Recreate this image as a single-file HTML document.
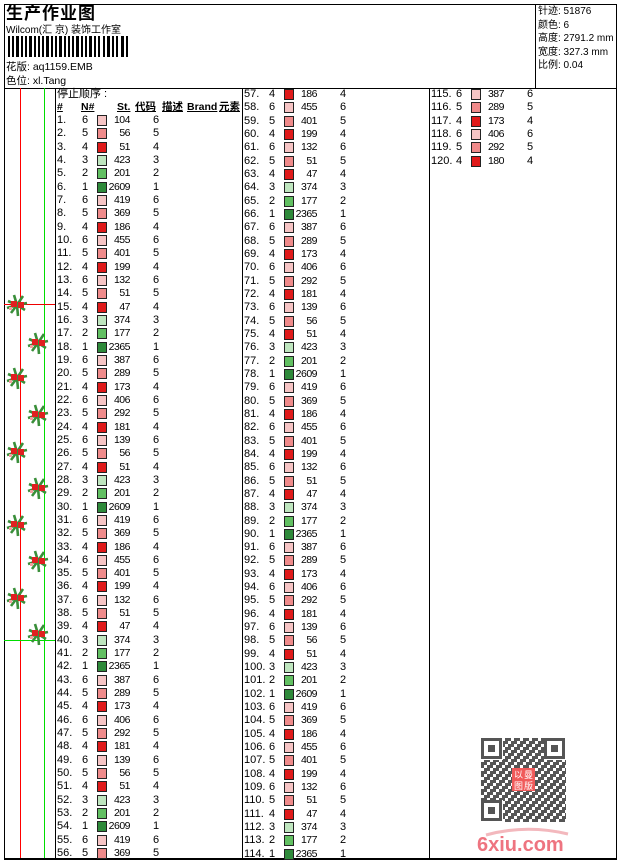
<!DOCTYPE html>
<html><head><meta charset="utf-8">
<style>
*{margin:0;padding:0;box-sizing:border-box}
body{width:620px;height:860px;background:#fff;position:relative;overflow:hidden;font-family:"Liberation Sans","Noto Sans CJK SC",sans-serif;font-size:11px;color:#000;line-height:13px}
.a{position:absolute;white-space:nowrap;line-height:13px}
.col{position:absolute;width:186px}
.r{position:relative;height:13.34px;line-height:13px}
.r i,.r b,.r u,.r em{position:absolute;font-style:normal;font-weight:normal;text-decoration:none;top:0}
.r i{left:1px}.r b{left:26px}.r u{right:112px;text-align:right;letter-spacing:-0.5px;font-size:10.5px}.r em{left:97px}
.r s{position:absolute;left:41px;top:1px;width:10px;height:11px;border:1px solid #222}
.c6{background:#f6c4c4}.c5{background:#ef8a8a}.c4{background:#e01a1a}.c3{background:#bfe6bf}.c2{background:#62c062}.c1{background:#2e8a3a}
.h{font-weight:bold;text-decoration:underline;font-size:10.5px}
</style></head><body>
<div class="a" style="left:4px;top:4px;width:613px;height:856px;border:1px solid #000;border-bottom-width:2px"></div>
<div class="a" style="left:4px;top:88px;width:613px;height:1px;background:#000"></div>
<div class="a" style="left:535px;top:4px;width:1px;height:84px;background:#000"></div>
<div class="a" style="left:55px;top:88px;width:1px;height:770px;background:#000"></div>
<div class="a" style="left:242px;top:88px;width:1px;height:770px;background:#000"></div>
<div class="a" style="left:429px;top:88px;width:1px;height:770px;background:#000"></div>
<div class="a" style="left:20px;top:88px;width:1px;height:770px;background:#f00"></div>
<div class="a" style="left:44px;top:88px;width:1px;height:770px;background:#0d0"></div>
<div class="a" style="left:4px;top:304px;width:51px;height:1px;background:#e00"></div>
<div class="a" style="left:4px;top:640px;width:51px;height:1px;background:#0d0"></div>
<svg class="a" style="left:0;top:0" width="60" height="860">
<defs><g id="sp">
<path d="M0 0 L-9 -4 M0 0 L-10 3 M0 0 L-3 -10 M0 0 L6 -9 M0 0 L10 -2 M0 0 L8 5 M0 0 L1 11 M0 0 L-6 8" stroke="#3a8f3a" stroke-width="2.6"/>
<rect x="-6" y="-4" width="6" height="6" fill="#e02020"/><rect x="1" y="-3" width="6" height="6" fill="#e02020"/><rect x="-8" y="2" width="3" height="3" fill="#f2a0a0"/>
</g></defs>
<use href="#sp" x="17" y="305"/><use href="#sp" x="17" y="378"/><use href="#sp" x="17" y="452"/><use href="#sp" x="17" y="525"/><use href="#sp" x="17" y="598"/>
<use href="#sp" x="38" y="343"/><use href="#sp" x="38" y="415"/><use href="#sp" x="38" y="488"/><use href="#sp" x="38" y="561"/><use href="#sp" x="38" y="634"/>
</svg>
<div class="a" style="left:6px;top:4px;font-size:17px;line-height:20px;font-weight:bold;letter-spacing:1px">生产作业图</div>
<div class="a" style="left:6px;top:24px;font-size:10px">Wilcom(汇 京) 装饰工作室</div>
<svg class="a" style="left:8px;top:36px" width="124" height="21">
<g fill="#000">
<rect x="0" y="0" width="2" height="21"/><rect x="4" y="0" width="2" height="21"/><rect x="8" y="0" width="3" height="21"/><rect x="13" y="0" width="2" height="21"/><rect x="17" y="0" width="2" height="21"/><rect x="21" y="0" width="3" height="21"/><rect x="26" y="0" width="2" height="21"/><rect x="30" y="0" width="2" height="21"/><rect x="34" y="0" width="2" height="21"/><rect x="38" y="0" width="3" height="21"/><rect x="43" y="0" width="2" height="21"/><rect x="47" y="0" width="2" height="21"/><rect x="51" y="0" width="3" height="21"/><rect x="56" y="0" width="2" height="21"/><rect x="60" y="0" width="2" height="21"/><rect x="64" y="0" width="2" height="21"/><rect x="68" y="0" width="3" height="21"/><rect x="73" y="0" width="2" height="21"/><rect x="77" y="0" width="2" height="21"/><rect x="81" y="0" width="3" height="21"/><rect x="86" y="0" width="2" height="21"/><rect x="90" y="0" width="2" height="21"/><rect x="95" y="0" width="2" height="21"/><rect x="99" y="0" width="3" height="21"/><rect x="104" y="0" width="2" height="21"/><rect x="108" y="0" width="2" height="21"/><rect x="113" y="0" width="3" height="21"/><rect x="118" y="0" width="2" height="21"/>
</g></svg>
<div class="a" style="left:6px;top:61px;font-size:10.5px">花版: aq1159.EMB</div>
<div class="a" style="left:6px;top:75px;font-size:10.5px">色位: xl.Tang</div>
<div class="a" style="left:538px;top:5px;font-size:10px;line-height:13.5px;white-space:normal;width:80px">针迹: 51876<br>颜色: 6<br>高度: 2791.2 mm<br>宽度: 327.3 mm<br>比例: 0.04</div>
<div class="a" style="left:57px;top:88px">停止顺序 :</div>
<div class="a h" style="left:57px;top:101px">#</div>
<div class="a h" style="left:81px;top:101px">N#</div>
<div class="a h" style="left:117px;top:101px">St.</div>
<div class="a h" style="left:135px;top:101px">代码</div>
<div class="a h" style="left:162px;top:101px">描述</div>
<div class="a h" style="left:187px;top:101px">Brand</div>
<div class="a h" style="left:219px;top:101px">元素</div>
<div class="col" style="left:56px;top:114px">
<div class="r"><i>1.</i><b>6</b><s class="c6"></s><u>104</u><em>6</em></div>
<div class="r"><i>2.</i><b>5</b><s class="c5"></s><u>56</u><em>5</em></div>
<div class="r"><i>3.</i><b>4</b><s class="c4"></s><u>51</u><em>4</em></div>
<div class="r"><i>4.</i><b>3</b><s class="c3"></s><u>423</u><em>3</em></div>
<div class="r"><i>5.</i><b>2</b><s class="c2"></s><u>201</u><em>2</em></div>
<div class="r"><i>6.</i><b>1</b><s class="c1"></s><u>2609</u><em>1</em></div>
<div class="r"><i>7.</i><b>6</b><s class="c6"></s><u>419</u><em>6</em></div>
<div class="r"><i>8.</i><b>5</b><s class="c5"></s><u>369</u><em>5</em></div>
<div class="r"><i>9.</i><b>4</b><s class="c4"></s><u>186</u><em>4</em></div>
<div class="r"><i>10.</i><b>6</b><s class="c6"></s><u>455</u><em>6</em></div>
<div class="r"><i>11.</i><b>5</b><s class="c5"></s><u>401</u><em>5</em></div>
<div class="r"><i>12.</i><b>4</b><s class="c4"></s><u>199</u><em>4</em></div>
<div class="r"><i>13.</i><b>6</b><s class="c6"></s><u>132</u><em>6</em></div>
<div class="r"><i>14.</i><b>5</b><s class="c5"></s><u>51</u><em>5</em></div>
<div class="r"><i>15.</i><b>4</b><s class="c4"></s><u>47</u><em>4</em></div>
<div class="r"><i>16.</i><b>3</b><s class="c3"></s><u>374</u><em>3</em></div>
<div class="r"><i>17.</i><b>2</b><s class="c2"></s><u>177</u><em>2</em></div>
<div class="r"><i>18.</i><b>1</b><s class="c1"></s><u>2365</u><em>1</em></div>
<div class="r"><i>19.</i><b>6</b><s class="c6"></s><u>387</u><em>6</em></div>
<div class="r"><i>20.</i><b>5</b><s class="c5"></s><u>289</u><em>5</em></div>
<div class="r"><i>21.</i><b>4</b><s class="c4"></s><u>173</u><em>4</em></div>
<div class="r"><i>22.</i><b>6</b><s class="c6"></s><u>406</u><em>6</em></div>
<div class="r"><i>23.</i><b>5</b><s class="c5"></s><u>292</u><em>5</em></div>
<div class="r"><i>24.</i><b>4</b><s class="c4"></s><u>181</u><em>4</em></div>
<div class="r"><i>25.</i><b>6</b><s class="c6"></s><u>139</u><em>6</em></div>
<div class="r"><i>26.</i><b>5</b><s class="c5"></s><u>56</u><em>5</em></div>
<div class="r"><i>27.</i><b>4</b><s class="c4"></s><u>51</u><em>4</em></div>
<div class="r"><i>28.</i><b>3</b><s class="c3"></s><u>423</u><em>3</em></div>
<div class="r"><i>29.</i><b>2</b><s class="c2"></s><u>201</u><em>2</em></div>
<div class="r"><i>30.</i><b>1</b><s class="c1"></s><u>2609</u><em>1</em></div>
<div class="r"><i>31.</i><b>6</b><s class="c6"></s><u>419</u><em>6</em></div>
<div class="r"><i>32.</i><b>5</b><s class="c5"></s><u>369</u><em>5</em></div>
<div class="r"><i>33.</i><b>4</b><s class="c4"></s><u>186</u><em>4</em></div>
<div class="r"><i>34.</i><b>6</b><s class="c6"></s><u>455</u><em>6</em></div>
<div class="r"><i>35.</i><b>5</b><s class="c5"></s><u>401</u><em>5</em></div>
<div class="r"><i>36.</i><b>4</b><s class="c4"></s><u>199</u><em>4</em></div>
<div class="r"><i>37.</i><b>6</b><s class="c6"></s><u>132</u><em>6</em></div>
<div class="r"><i>38.</i><b>5</b><s class="c5"></s><u>51</u><em>5</em></div>
<div class="r"><i>39.</i><b>4</b><s class="c4"></s><u>47</u><em>4</em></div>
<div class="r"><i>40.</i><b>3</b><s class="c3"></s><u>374</u><em>3</em></div>
<div class="r"><i>41.</i><b>2</b><s class="c2"></s><u>177</u><em>2</em></div>
<div class="r"><i>42.</i><b>1</b><s class="c1"></s><u>2365</u><em>1</em></div>
<div class="r"><i>43.</i><b>6</b><s class="c6"></s><u>387</u><em>6</em></div>
<div class="r"><i>44.</i><b>5</b><s class="c5"></s><u>289</u><em>5</em></div>
<div class="r"><i>45.</i><b>4</b><s class="c4"></s><u>173</u><em>4</em></div>
<div class="r"><i>46.</i><b>6</b><s class="c6"></s><u>406</u><em>6</em></div>
<div class="r"><i>47.</i><b>5</b><s class="c5"></s><u>292</u><em>5</em></div>
<div class="r"><i>48.</i><b>4</b><s class="c4"></s><u>181</u><em>4</em></div>
<div class="r"><i>49.</i><b>6</b><s class="c6"></s><u>139</u><em>6</em></div>
<div class="r"><i>50.</i><b>5</b><s class="c5"></s><u>56</u><em>5</em></div>
<div class="r"><i>51.</i><b>4</b><s class="c4"></s><u>51</u><em>4</em></div>
<div class="r"><i>52.</i><b>3</b><s class="c3"></s><u>423</u><em>3</em></div>
<div class="r"><i>53.</i><b>2</b><s class="c2"></s><u>201</u><em>2</em></div>
<div class="r"><i>54.</i><b>1</b><s class="c1"></s><u>2609</u><em>1</em></div>
<div class="r"><i>55.</i><b>6</b><s class="c6"></s><u>419</u><em>6</em></div>
<div class="r"><i>56.</i><b>5</b><s class="c5"></s><u>369</u><em>5</em></div>
</div>
<div class="col" style="left:243px;top:88px">
<div class="r"><i>57.</i><b>4</b><s class="c4"></s><u>186</u><em>4</em></div>
<div class="r"><i>58.</i><b>6</b><s class="c6"></s><u>455</u><em>6</em></div>
<div class="r"><i>59.</i><b>5</b><s class="c5"></s><u>401</u><em>5</em></div>
<div class="r"><i>60.</i><b>4</b><s class="c4"></s><u>199</u><em>4</em></div>
<div class="r"><i>61.</i><b>6</b><s class="c6"></s><u>132</u><em>6</em></div>
<div class="r"><i>62.</i><b>5</b><s class="c5"></s><u>51</u><em>5</em></div>
<div class="r"><i>63.</i><b>4</b><s class="c4"></s><u>47</u><em>4</em></div>
<div class="r"><i>64.</i><b>3</b><s class="c3"></s><u>374</u><em>3</em></div>
<div class="r"><i>65.</i><b>2</b><s class="c2"></s><u>177</u><em>2</em></div>
<div class="r"><i>66.</i><b>1</b><s class="c1"></s><u>2365</u><em>1</em></div>
<div class="r"><i>67.</i><b>6</b><s class="c6"></s><u>387</u><em>6</em></div>
<div class="r"><i>68.</i><b>5</b><s class="c5"></s><u>289</u><em>5</em></div>
<div class="r"><i>69.</i><b>4</b><s class="c4"></s><u>173</u><em>4</em></div>
<div class="r"><i>70.</i><b>6</b><s class="c6"></s><u>406</u><em>6</em></div>
<div class="r"><i>71.</i><b>5</b><s class="c5"></s><u>292</u><em>5</em></div>
<div class="r"><i>72.</i><b>4</b><s class="c4"></s><u>181</u><em>4</em></div>
<div class="r"><i>73.</i><b>6</b><s class="c6"></s><u>139</u><em>6</em></div>
<div class="r"><i>74.</i><b>5</b><s class="c5"></s><u>56</u><em>5</em></div>
<div class="r"><i>75.</i><b>4</b><s class="c4"></s><u>51</u><em>4</em></div>
<div class="r"><i>76.</i><b>3</b><s class="c3"></s><u>423</u><em>3</em></div>
<div class="r"><i>77.</i><b>2</b><s class="c2"></s><u>201</u><em>2</em></div>
<div class="r"><i>78.</i><b>1</b><s class="c1"></s><u>2609</u><em>1</em></div>
<div class="r"><i>79.</i><b>6</b><s class="c6"></s><u>419</u><em>6</em></div>
<div class="r"><i>80.</i><b>5</b><s class="c5"></s><u>369</u><em>5</em></div>
<div class="r"><i>81.</i><b>4</b><s class="c4"></s><u>186</u><em>4</em></div>
<div class="r"><i>82.</i><b>6</b><s class="c6"></s><u>455</u><em>6</em></div>
<div class="r"><i>83.</i><b>5</b><s class="c5"></s><u>401</u><em>5</em></div>
<div class="r"><i>84.</i><b>4</b><s class="c4"></s><u>199</u><em>4</em></div>
<div class="r"><i>85.</i><b>6</b><s class="c6"></s><u>132</u><em>6</em></div>
<div class="r"><i>86.</i><b>5</b><s class="c5"></s><u>51</u><em>5</em></div>
<div class="r"><i>87.</i><b>4</b><s class="c4"></s><u>47</u><em>4</em></div>
<div class="r"><i>88.</i><b>3</b><s class="c3"></s><u>374</u><em>3</em></div>
<div class="r"><i>89.</i><b>2</b><s class="c2"></s><u>177</u><em>2</em></div>
<div class="r"><i>90.</i><b>1</b><s class="c1"></s><u>2365</u><em>1</em></div>
<div class="r"><i>91.</i><b>6</b><s class="c6"></s><u>387</u><em>6</em></div>
<div class="r"><i>92.</i><b>5</b><s class="c5"></s><u>289</u><em>5</em></div>
<div class="r"><i>93.</i><b>4</b><s class="c4"></s><u>173</u><em>4</em></div>
<div class="r"><i>94.</i><b>6</b><s class="c6"></s><u>406</u><em>6</em></div>
<div class="r"><i>95.</i><b>5</b><s class="c5"></s><u>292</u><em>5</em></div>
<div class="r"><i>96.</i><b>4</b><s class="c4"></s><u>181</u><em>4</em></div>
<div class="r"><i>97.</i><b>6</b><s class="c6"></s><u>139</u><em>6</em></div>
<div class="r"><i>98.</i><b>5</b><s class="c5"></s><u>56</u><em>5</em></div>
<div class="r"><i>99.</i><b>4</b><s class="c4"></s><u>51</u><em>4</em></div>
<div class="r"><i>100.</i><b>3</b><s class="c3"></s><u>423</u><em>3</em></div>
<div class="r"><i>101.</i><b>2</b><s class="c2"></s><u>201</u><em>2</em></div>
<div class="r"><i>102.</i><b>1</b><s class="c1"></s><u>2609</u><em>1</em></div>
<div class="r"><i>103.</i><b>6</b><s class="c6"></s><u>419</u><em>6</em></div>
<div class="r"><i>104.</i><b>5</b><s class="c5"></s><u>369</u><em>5</em></div>
<div class="r"><i>105.</i><b>4</b><s class="c4"></s><u>186</u><em>4</em></div>
<div class="r"><i>106.</i><b>6</b><s class="c6"></s><u>455</u><em>6</em></div>
<div class="r"><i>107.</i><b>5</b><s class="c5"></s><u>401</u><em>5</em></div>
<div class="r"><i>108.</i><b>4</b><s class="c4"></s><u>199</u><em>4</em></div>
<div class="r"><i>109.</i><b>6</b><s class="c6"></s><u>132</u><em>6</em></div>
<div class="r"><i>110.</i><b>5</b><s class="c5"></s><u>51</u><em>5</em></div>
<div class="r"><i>111.</i><b>4</b><s class="c4"></s><u>47</u><em>4</em></div>
<div class="r"><i>112.</i><b>3</b><s class="c3"></s><u>374</u><em>3</em></div>
<div class="r"><i>113.</i><b>2</b><s class="c2"></s><u>177</u><em>2</em></div>
<div class="r"><i>114.</i><b>1</b><s class="c1"></s><u>2365</u><em>1</em></div>
</div>
<div class="col" style="left:430px;top:88px">
<div class="r"><i>115.</i><b>6</b><s class="c6"></s><u>387</u><em>6</em></div>
<div class="r"><i>116.</i><b>5</b><s class="c5"></s><u>289</u><em>5</em></div>
<div class="r"><i>117.</i><b>4</b><s class="c4"></s><u>173</u><em>4</em></div>
<div class="r"><i>118.</i><b>6</b><s class="c6"></s><u>406</u><em>6</em></div>
<div class="r"><i>119.</i><b>5</b><s class="c5"></s><u>292</u><em>5</em></div>
<div class="r"><i>120.</i><b>4</b><s class="c4"></s><u>180</u><em>4</em></div>
</div>
<svg class="a" style="left:481px;top:738px" width="85" height="84">
<defs><pattern id="qp" width="9" height="9" patternUnits="userSpaceOnUse">
<rect x="0" y="0" width="3" height="3" fill="#555"/><rect x="6" y="0" width="3" height="6" fill="#555"/><rect x="3" y="3" width="3" height="3" fill="#555"/><rect x="0" y="6" width="6" height="3" fill="#555"/>
</pattern></defs>
<rect x="0" y="0" width="85" height="84" fill="url(#qp)"/>
<g fill="#fff"><rect x="0" y="0" width="22" height="22"/><rect x="63" y="0" width="22" height="22"/><rect x="0" y="62" width="22" height="22"/></g>
<g fill="none" stroke="#555" stroke-width="3"><rect x="1.5" y="1.5" width="18" height="18"/><rect x="64.5" y="1.5" width="18" height="18"/><rect x="1.5" y="63.5" width="18" height="18"/></g>
<g fill="#555"><rect x="7" y="7" width="7" height="7"/><rect x="70" y="7" width="7" height="7"/><rect x="7" y="69" width="7" height="7"/></g>
<rect x="31" y="30" width="23" height="23" fill="#f05a5a"/>
<g fill="#fff" font-size="9" font-family="Noto Sans CJK SC,sans-serif"><text x="33" y="40">以</text><text x="43" y="40">曼</text><text x="33" y="51">图</text><text x="43" y="51">版</text></g>
</svg>
<svg class="a" style="left:476px;top:826px" width="100" height="30">
<path d="M10 9 Q50 -2 92 8" stroke="#f3b8bd" stroke-width="3" fill="none"/>
<text x="1" y="25" font-family="Liberation Sans,sans-serif" font-weight="bold" font-size="20" fill="#ee7480">6xiu.com</text>
</svg>
</body></html>
